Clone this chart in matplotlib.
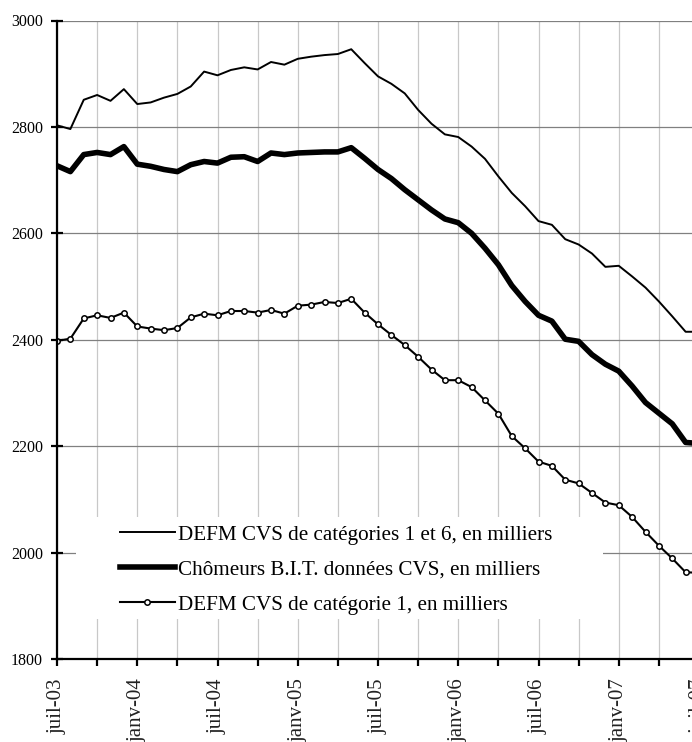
import numpy as np
import matplotlib
matplotlib.use('Agg')
import matplotlib.pyplot as plt
from matplotlib.patches import Rectangle

plt.rcParams['font.family'] = ['Liberation Serif', 'DejaVu Serif']

# monthly values, juil-03 .. juil-07
defm_1_6 = [2803, 2796, 2851, 2860, 2849, 2871, 2843, 2846, 2855, 2862,
            2876, 2904, 2897, 2907, 2912, 2908, 2922, 2917, 2928, 2932,
            2935, 2937, 2946, 2920, 2895, 2881, 2863, 2832, 2806, 2786,
            2781, 2763, 2740, 2707, 2676, 2651, 2623, 2616, 2589, 2579,
            2562, 2537, 2539, 2519, 2498, 2472, 2444, 2415, 2415]
bit = [2727, 2716, 2748, 2752, 2748, 2763, 2730, 2726, 2720, 2716,
       2729, 2735, 2732, 2743, 2744, 2735, 2751, 2748, 2751, 2752,
       2753, 2753, 2761, 2741, 2720, 2703, 2682, 2663, 2644, 2627,
       2620, 2600, 2572, 2541, 2502, 2472, 2446, 2435, 2401, 2397,
       2372, 2354, 2341, 2313, 2282, 2262, 2242, 2207, 2205]
defm_1 = [2398, 2402, 2440, 2446, 2441, 2451, 2425, 2421, 2418, 2422,
          2442, 2449, 2446, 2454, 2454, 2451, 2456, 2449, 2464, 2466,
          2471, 2469, 2477, 2451, 2429, 2409, 2390, 2368, 2344, 2324,
          2324, 2311, 2286, 2261, 2219, 2196, 2171, 2163, 2137, 2130,
          2112, 2094, 2089, 2067, 2039, 2013, 1989, 1963, 1962]
tick_labels = ['juil-03', 'janv-04', 'juil-04', 'janv-05', 'juil-05',
               'janv-06', 'juil-06', 'janv-07', 'juil-07']
labels = ['DEFM CVS de catégories 1 et 6, en milliers',
          'Chômeurs B.I.T. données CVS, en milliers',
          'DEFM CVS de catégorie 1, en milliers']

months = np.arange(len(defm_1_6))

fig = plt.figure(figsize=(6.92, 7.42), dpi=100)
ax = fig.add_axes([57/692, 83/742, 642/692, 638.5/742])

ax.plot(months, defm_1_6, color='black', lw=1.4, label=labels[0], zorder=3)
ax.plot(months, bit, color='black', lw=4, label=labels[1], zorder=3)
ax.plot(months, defm_1, color='black', lw=1.5, marker='o', ms=3.9,
        mfc='white', mec='black', mew=1.1, label=labels[2], zorder=3)

ax.set_xlim(0, 48)
ax.set_ylim(1800, 3000)
ax.set_yticks(np.arange(1800, 3001, 200))
ax.set_xticks(np.arange(0, 49, 6))
ax.set_xticklabels(tick_labels, rotation=90, color='#222222')
ax.set_xticks(np.arange(3, 49, 6), minor=True)

ax.grid(axis='y', color='#808080', lw=0.9)
ax.grid(axis='x', which='both', color='#c8c8c8', lw=0.9)

for s in ['top', 'right']:
    ax.spines[s].set_visible(False)
for s in ['left', 'bottom']:
    ax.spines[s].set_linewidth(1.6)
    ax.spines[s].set_zorder(4)

ax.tick_params(axis='y', direction='inout', length=8, width=1.6,
               labelsize=11.5, pad=6)
ax.tick_params(axis='x', which='both', direction='out', length=5, width=1.6,
               labelsize=15, pad=9)

# white background behind the legend
ax.add_patch(Rectangle((0.0296, 0.0626), 0.821, 0.16, transform=ax.transAxes,
                       facecolor='white', edgecolor='none', zorder=2.5))

leg = ax.legend(loc='upper left', bbox_to_anchor=(120/692, 1 - 525/742),
                bbox_transform=fig.transFigure, frameon=False, fontsize=15.2,
                borderpad=0, borderaxespad=0, handlelength=2.6,
                handletextpad=0.15, labelspacing=0.72)
leg.set_zorder(5)

fig.savefig('out.png', dpi=100)
